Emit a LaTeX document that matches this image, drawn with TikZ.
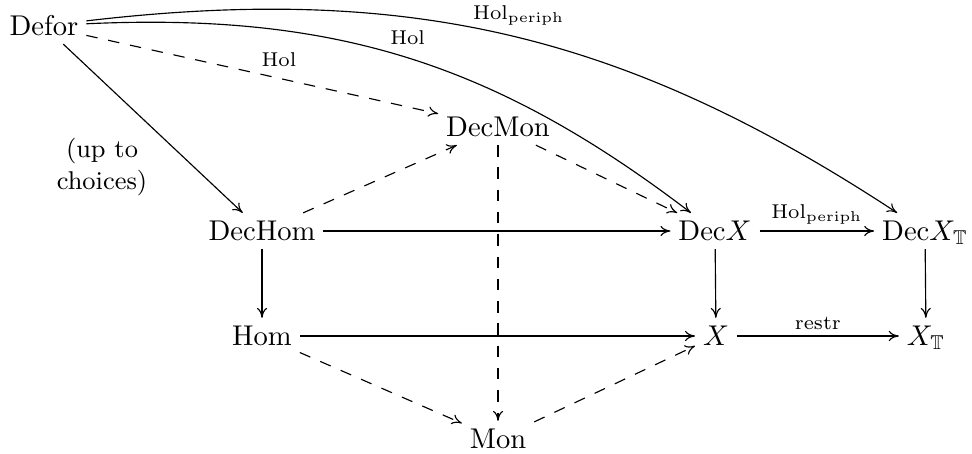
\documentclass[tikz,border=0pt]{standalone}
\usepackage{amssymb}
\usetikzlibrary{arrows.meta}
\begin{document}
\begin{tikzpicture}[x=0.35pt,y=0.35pt,
  obj/.style={inner sep=2.6pt,text height=6.8pt,text depth=0.3pt},
  lab/.style={font=\scriptsize,inner sep=2pt},
  arr/.style={-{Computer Modern Rightarrow[length=3.5pt,width=3.6pt]},line width=0.4pt},
  darr/.style={arr,dash pattern=on 4pt off 3.8pt}]
\useasboundingbox (0,0) rectangle (972,-453);
\node[obj] (defor)  at (44,-26)  {Defor};
\node[obj] (decmon) at (498,-127) {DecMon};
\node[obj] (dechom) at (262,-231) {DecHom};
\node[obj] (decx)   at (715,-231) {Dec$X$};
\node[obj] (decxt)  at (925,-231) {Dec$X_{\mathbb{T}}$};
\node[obj] (hom)    at (262,-336) {Hom};
\node[obj] (x)      at (716,-336) {$X$};
\node[obj] (xt)     at (926,-336) {$X_{\mathbb{T}}$};
\node[obj] (mon)    at (498,-439) {Mon};
\node[align=center,font=\small] (note) at (102,-167) {(up to\\choices)};

\draw[arr] (defor) to[bend left=20] node[lab,pos=0.5,anchor=south,yshift=2.5pt] {Hol} (decx);
\draw[arr] (defor) to[bend left=20] node[lab,pos=0.51,anchor=south,yshift=2pt] {$\mathrm{Hol}_{\mathrm{periph}}$} (decxt);
\draw[darr] (defor) -- node[lab,pos=0.48,auto] {Hol} (decmon);
\draw[arr] (defor) -- (dechom);
\draw[darr] (dechom) -- (decmon);
\draw[arr] (dechom) -- (decx);
\draw[arr] (dechom) -- (hom);
\draw[darr] (decmon) -- (decx);
\draw[darr] (decmon) -- (mon);
\draw[arr] (hom) -- (x);
\draw[darr] (hom) -- (mon);
\draw[darr] (mon) -- (x);
\draw[arr] (decx) -- node[lab,auto] {$\mathrm{Hol}_{\mathrm{periph}}$} (decxt);
\draw[arr] (decx) -- (x);
\draw[arr] (decxt) -- (xt);
\draw[arr] (x) -- node[lab,auto] {restr} (xt);
\end{tikzpicture}
\end{document}
